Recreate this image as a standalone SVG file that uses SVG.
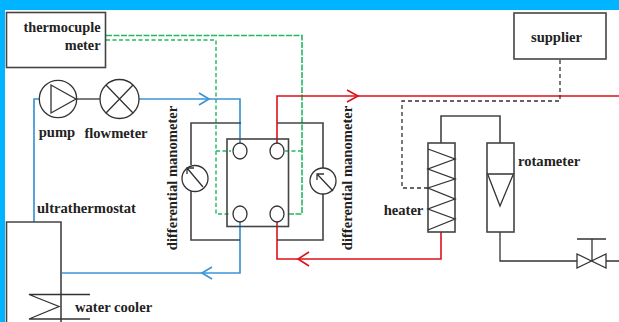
<svg xmlns="http://www.w3.org/2000/svg" width="619" height="322" viewBox="0 0 619 322">
<style>
.k{fill:none;stroke:#444;stroke-width:1.6}
.t{fill:none;stroke:#333;stroke-width:1.3}
.b{fill:none;stroke:#3d94d6;stroke-width:1.7}
.r{fill:none;stroke:#e0101a;stroke-width:1.6}
.g{fill:none;stroke:#22b860;stroke-width:1.4;stroke-dasharray:4 2.5}
.d{fill:none;stroke:#333;stroke-width:1.3;stroke-dasharray:4 3}
text{font-family:"Liberation Serif",serif;font-weight:bold;font-size:14.6px;fill:#222}
</style>
<rect width="619" height="322" fill="#00b4ff"/>
<rect x="5" y="10" width="614" height="312" fill="#fff"/>
<g id="connectors">
<path class="g" style="stroke-dasharray:6 1.5;stroke-width:1.6" d="M106 35.500H302V214H288"/>
<path class="g" d="M106 40H216V214H231"/>
<path class="g" d="M216 151H231M302 151H284"/>
<path class="b" d="M34 222V99H39M139 99H240V143"/>
<path class="b" d="M62 273H240V222"/>
<path class="b" d="M199 93L209 99L199 105M212 267L202 273L212 279"/>
<path class="r" d="M277 143V96H619"/>
<path class="r" d="M347 90L358 96L347 102M309 252L298 259L309 266"/>
<path class="r" d="M277 222V259H441V232"/>
<path class="k" d="M191 165V123H241M191 191V240H240"/>
<path class="k" d="M323 168V123H277M323 194V240H277"/>
<path class="d" d="M560 60V101H402V188H428"/>
<path class="k" d="M441 143V116H500V143"/>
<path class="t" d="M500 232V261H577M606 261H619M592 239V261M577 239H606"/>
<path class="t" d="M76 99H100"/>
</g>
<g id="thermocouple-meter"><rect class="k" x="6.500" y="12.500" width="99" height="55"/><text x="100.500" y="32" text-anchor="end" style="font-size:14.3px">thermocuple</text><text x="100.500" y="49.500" text-anchor="end" style="font-size:14.3px">meter</text></g>
<g id="supplier"><rect class="k" x="514" y="13" width="92" height="46"/><text x="556.500" y="42" text-anchor="middle">supplier</text></g>
<g id="pump"><circle class="t" cx="58" cy="99" r="18.700"/><path class="t" d="M51 85V113L76 99Z"/><text x="57" y="137" text-anchor="middle">pump</text></g>
<g id="flowmeter"><circle class="t" cx="119.500" cy="99" r="19.500"/><path class="t" d="M106 85L133 113M133 85L106 113"/><text x="116" y="138" text-anchor="middle">flowmeter</text></g>
<g id="cell"><rect class="k" x="227" y="139" width="61.500" height="87.500"/>
<ellipse class="t" cx="240" cy="151" rx="7" ry="8"/><ellipse class="t" cx="277" cy="151" rx="7" ry="8"/><ellipse class="t" cx="240" cy="214" rx="7" ry="8"/><ellipse class="t" cx="277" cy="214" rx="7" ry="8"/></g>
<g id="manometer-left"><circle class="t" cx="195" cy="178.500" r="13"/><path class="t" d="M203 187L187 168M187 174V168H194"/><text transform="translate(176.500 178) rotate(-90)" text-anchor="middle">differential manometer</text></g>
<g id="manometer-right"><circle class="t" cx="323" cy="181" r="13"/><path class="t" d="M333 191L317 174M317 180V174H324"/><text transform="translate(352 178) rotate(-90)" text-anchor="middle">differential manometer</text></g>
<g id="heater"><rect class="k" x="428" y="143" width="27" height="89"/><path class="t" d="M428 149L455 159L428 169L455 179L428 188L455 199L428 209L455 219L428 230"/><text x="403.500" y="215" text-anchor="middle">heater</text></g>
<g id="rotameter"><rect class="k" x="487" y="143" width="27" height="89"/><path class="t" d="M487 174H514M488 175L500 206L513 175"/><text x="518" y="166">rotameter</text></g>
<g id="valve"><path class="t" d="M577 254V268L606 254V268Z"/></g>
<g id="ultrathermostat"><path class="k" d="M6.500 322V222H61V322"/><text x="37" y="213">ultrathermostat</text></g>
<g id="water-cooler"><path class="t" d="M90 294.500H29L59 306.500L29 319H90"/><text x="75" y="312">water cooler</text></g>
</svg>
